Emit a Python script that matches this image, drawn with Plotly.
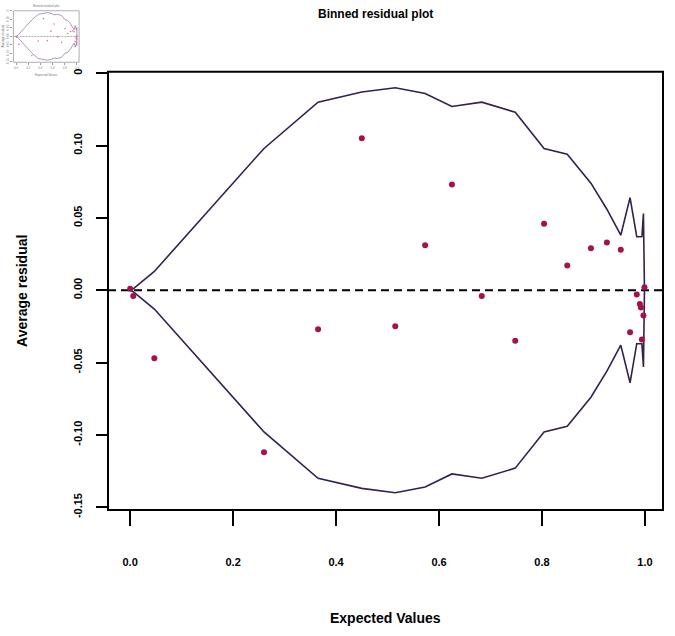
import plotly.graph_objects as go

# ---- data ----
bin_x = [0.000, 0.006, 0.047, 0.260, 0.365, 0.450, 0.515, 0.573, 0.625, 0.683,
         0.748, 0.804, 0.849, 0.895, 0.926, 0.953, 0.971, 0.984, 0.990, 0.992,
         0.994, 0.997, 0.999]
avg_resid = [0.001, -0.004, -0.047, -0.112, -0.027, 0.105, -0.025, 0.031, 0.073, -0.004,
             -0.035, 0.046, 0.017, 0.029, 0.033, 0.028, -0.029, -0.003, -0.0095, -0.012,
             -0.034, -0.0175, 0.002]
two_se = [0.000, 0.001, 0.013, 0.098, 0.130, 0.137, 0.140, 0.136, 0.127, 0.130,
          0.123, 0.098, 0.094, 0.074, 0.056, 0.038, 0.064, 0.037, 0.037, 0.037,
          0.037, 0.053, 0.000]
neg_two_se = [-v for v in two_se]

x_ticks = [0.0, 0.2, 0.4, 0.6, 0.8, 1.0]
x_tick_text = ["0.0", "0.2", "0.4", "0.6", "0.8", "1.0"]
y_ticks = [0.15, 0.10, 0.05, 0.00, -0.05, -0.10, -0.15]
y_tick_text = ["0", "0.10", "0.05", "0.00", "-0.05", "-0.10", "-0.15"]

W, H = 675, 636
POINT_COL = "#a3124f"
LINE_COL = "#33204f"

fig = go.Figure()

def px_dom_x(a, b):
    return [a / W, b / W]

def px_dom_y(top, bottom):
    return [1 - bottom / H, 1 - top / H]

# main panel traces
fig.add_trace(go.Scatter(x=bin_x, y=two_se, mode="lines",
                         line=dict(color=LINE_COL, width=1.6), xaxis="x", yaxis="y",
                         showlegend=False, hoverinfo="skip"))
fig.add_trace(go.Scatter(x=bin_x, y=neg_two_se, mode="lines",
                         line=dict(color=LINE_COL, width=1.6), xaxis="x", yaxis="y",
                         showlegend=False, hoverinfo="skip"))
fig.add_trace(go.Scatter(x=bin_x, y=avg_resid, mode="markers",
                         marker=dict(color=POINT_COL, size=6), xaxis="x", yaxis="y",
                         showlegend=False))

# thumbnail inset (small copy in the top-left corner)
fig.add_trace(go.Scatter(x=bin_x, y=two_se, mode="lines",
                         line=dict(color="#9c7fb0", width=0.8), xaxis="x2", yaxis="y2",
                         showlegend=False, hoverinfo="skip"))
fig.add_trace(go.Scatter(x=bin_x, y=neg_two_se, mode="lines",
                         line=dict(color="#9c7fb0", width=0.8), xaxis="x2", yaxis="y2",
                         showlegend=False, hoverinfo="skip"))
fig.add_trace(go.Scatter(x=bin_x, y=avg_resid, mode="markers",
                         marker=dict(color="#d47a9a", size=1.6), xaxis="x2", yaxis="y2",
                         showlegend=False))

tickfont = dict(family="Liberation Sans", size=11, color="black", weight="bold")

fig.update_layout(
    width=W, height=H,
    margin=dict(l=0, r=0, t=0, b=0),
    paper_bgcolor="white", plot_bgcolor="white",
    xaxis=dict(domain=px_dom_x(108, 663), range=[-0.043, 1.035],
               tickvals=x_ticks, ticktext=x_tick_text, ticks="outside",
               ticklen=15, tickwidth=2, tickcolor="black",
               showline=False, showgrid=False, zeroline=False,
               tickfont=tickfont, ticklabelstandoff=27, anchor="y"),
    yaxis=dict(domain=px_dom_y(70, 516), range=[-0.152, 0.151],
               tickvals=y_ticks, ticktext=y_tick_text, ticks="outside",
               ticklen=11, tickwidth=2, tickcolor="black", tickangle=-90,
               showline=False, showgrid=False, zeroline=False,
               tickfont=tickfont, ticklabelstandoff=10, anchor="x"),
    xaxis2=dict(domain=px_dom_x(13.4, 79.1), range=[-0.043, 1.035],
                tickvals=x_ticks, ticktext=x_tick_text, ticks="outside",
                ticklen=2, tickwidth=0.6, tickcolor="#999999",
                showline=False, showgrid=False, zeroline=False,
                tickfont=dict(family="Liberation Sans", size=3, color="#888888"),
                anchor="y2"),
    yaxis2=dict(domain=px_dom_y(7.9, 60.3), range=[-0.152, 0.151],
                tickvals=y_ticks, ticktext=y_tick_text, ticks="outside",
                ticklen=2, tickwidth=0.6, tickcolor="#999999", tickangle=-90,
                showline=False, showgrid=False, zeroline=False,
                tickfont=dict(family="Liberation Sans", size=3, color="#888888"),
                anchor="x2"),
    shapes=[
        dict(type="rect", xref="x domain", yref="y domain", x0=0, x1=1, y0=0, y1=1,
             line=dict(color="black", width=2), layer="above"),
        dict(type="line", xref="x domain", yref="y", x0=0, x1=1, y0=0, y1=0,
             line=dict(color="black", width=2, dash="8px,5px"), layer="below"),
        dict(type="rect", xref="x2 domain", yref="y2 domain", x0=0, x1=1, y0=0, y1=1,
             line=dict(color="#9a9a9a", width=0.8), layer="above"),
        dict(type="line", xref="x2 domain", yref="y2", x0=0, x1=1, y0=0, y1=0,
             line=dict(color="#888888", width=0.7, dash="2px,1px"), layer="below"),
    ],
    annotations=[
        dict(text="Binned residual plot", x=375 / W, y=1 - 11 / H, xref="paper", yref="paper",
             showarrow=False, xanchor="center", yanchor="middle",
             font=dict(family="Liberation Sans", size=12, color="black", weight="bold")),
        dict(text="Expected Values", x=385 / W, y=1 - 626 / H, xref="paper", yref="paper",
             showarrow=False, xanchor="center", yanchor="middle",
             font=dict(family="Liberation Sans", size=14, color="black", weight="bold")),
        dict(text="Average residual", x=22 / W, y=1 - 293 / H, xref="paper", yref="paper",
             showarrow=False, xanchor="center", yanchor="middle", textangle=-90,
             font=dict(family="Liberation Sans", size=14, color="black", weight="bold")),
        dict(text="Binned residual plot", x=46 / W, y=1 - 3 / H, xref="paper", yref="paper",
             showarrow=False, xanchor="center", yanchor="middle",
             font=dict(family="Liberation Sans", size=3, color="#777777")),
        dict(text="Expected Values", x=46 / W, y=1 - 73 / H, xref="paper", yref="paper",
             showarrow=False, xanchor="center", yanchor="middle",
             font=dict(family="Liberation Sans", size=3, color="#777777")),
        dict(text="Average residual", x=3 / W, y=1 - 34 / H, xref="paper", yref="paper",
             showarrow=False, xanchor="center", yanchor="middle", textangle=-90,
             font=dict(family="Liberation Sans", size=3, color="#777777")),
    ],
)

fig.write_html("out.html")
